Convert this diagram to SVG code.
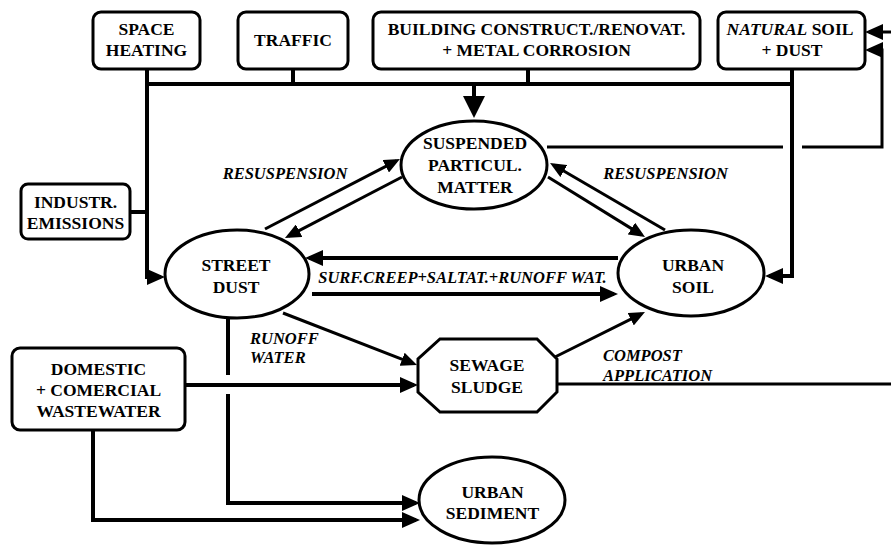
<svg xmlns="http://www.w3.org/2000/svg" width="891" height="545" viewBox="0 0 891 545" font-family="Liberation Serif, Times New Roman, serif">
<style>
.box{fill:#fff;stroke:#000;stroke-width:3}
.lbl{font-weight:bold;font-size:17.5px;text-anchor:middle;fill:#000}
.it{font-style:italic;font-weight:bold;font-size:16.5px;fill:#000}
.c{fill:none;stroke:#000;stroke-width:4}
.d{fill:none;stroke:#000;stroke-width:3}
</style>
<defs>
<marker id="ah" markerUnits="userSpaceOnUse" markerWidth="18" markerHeight="16" refX="14" refY="8" orient="auto" viewBox="0 0 18 16"><path d="M0,0 L18,8 L0,16 z" fill="#000"/></marker>
<marker id="at" markerUnits="userSpaceOnUse" markerWidth="16" markerHeight="14" refX="12" refY="7" orient="auto" viewBox="0 0 16 14"><path d="M0,0 L16,7 L0,14 z" fill="#000"/></marker>
<marker id="ab" markerUnits="userSpaceOnUse" markerWidth="22" markerHeight="22" refX="18" refY="11" orient="auto" viewBox="0 0 22 22"><path d="M0,0 L22,11 L0,22 z" fill="#000"/></marker>
</defs>
<rect width="891" height="545" fill="#fff"/>
<g id="connectors">
<path class="c" d="M147,69 V277 H161" marker-end="url(#ah)"/>
<path class="c" d="M147,84 H792"/>
<path class="c" d="M293,69 V84"/>
<path class="c" d="M528,69 V84"/>
<path class="c" d="M474,84 V114" marker-end="url(#ab)"/>
<path class="c" d="M792,69 V276 H769" marker-end="url(#ah)"/>
<path class="c" d="M130,212 H147"/>
<path class="d" d="M547,147 H783"/>
<path class="d" d="M802,147 H882 V50 H869" marker-end="url(#ah)"/>
<path class="d" d="M891,32 H869" marker-end="url(#ah)"/>
<path class="d" d="M265,229 L396.4,160.8" marker-end="url(#at)"/>
<path class="d" d="M402,177 L288.5,236.2" marker-end="url(#at)"/>
<path class="d" d="M665,230 L553.5,165" marker-end="url(#at)"/>
<path class="d" d="M548,177 L641.6,234.9" marker-end="url(#at)"/>
<path class="c" d="M618,258 H309" marker-end="url(#ah)"/>
<path class="c" d="M312,294 H614" marker-end="url(#ah)"/>
<path class="d" d="M283,313 L413.3,363.6" marker-end="url(#at)"/>
<path class="c" d="M228,318 V375"/>
<path class="c" d="M228,394 V503 H416" marker-end="url(#ah)"/>
<path class="c" d="M185,385 H414" marker-end="url(#ah)"/>
<path class="c" d="M93,430 V520 H416" marker-end="url(#ah)"/>
<path class="d" d="M555,357 L641.4,313.8" marker-end="url(#at)"/>
<path class="d" d="M557,384 H891"/>
</g>
<g id="space-heating"><rect class="box" x="93" y="12" width="107" height="57" rx="8"/><text class="lbl" x="146.5" y="35">SPACE</text><text class="lbl" x="146.5" y="56">HEATING</text></g>
<g id="traffic"><rect class="box" x="238" y="12" width="110" height="57" rx="8"/><text class="lbl" x="293" y="46">TRAFFIC</text></g>
<g id="building"><rect class="box" x="373" y="12" width="327" height="57" rx="8"/><text class="lbl" x="536.5" y="35">BUILDING CONSTRUCT./RENOVAT.</text><text class="lbl" x="536.5" y="56">+ METAL CORROSION</text></g>
<g id="natural-soil"><rect class="box" x="718" y="12" width="147" height="57" rx="8"/><text class="lbl" x="790" y="35"><tspan font-style="italic">NATURAL</tspan> SOIL</text><text class="lbl" x="792" y="56">+ DUST</text></g>
<g id="industr"><rect class="box" x="21" y="184" width="109" height="55" rx="7"/><text class="lbl" x="75.5" y="208">INDUSTR.</text><text class="lbl" x="75.5" y="229">EMISSIONS</text></g>
<g id="domestic"><rect class="box" x="12" y="348" width="173" height="82" rx="8"/><text class="lbl" x="98.5" y="375">DOMESTIC</text><text class="lbl" x="98.5" y="396">+ COMERCIAL</text><text class="lbl" x="98.5" y="417">WASTEWATER</text></g>
<g id="spm"><ellipse class="box" cx="474" cy="165" rx="73" ry="44"/><text class="lbl" x="475" y="149">SUSPENDED</text><text class="lbl" x="475" y="171">PARTICUL.</text><text class="lbl" x="475" y="193">MATTER</text></g>
<g id="street-dust"><ellipse class="box" cx="237" cy="274" rx="72" ry="44"/><text class="lbl" x="236" y="271">STREET</text><text class="lbl" x="236" y="293">DUST</text></g>
<g id="urban-soil"><ellipse class="box" cx="691" cy="273" rx="73" ry="43"/><text class="lbl" x="693" y="271">URBAN</text><text class="lbl" x="693" y="293">SOIL</text></g>
<g id="sewage-sludge"><polygon class="box" points="440,339 537,339 557,359 557,392 537,412 440,412 418,392 418,359"/><text class="lbl" x="487" y="371">SEWAGE</text><text class="lbl" x="487" y="393">SLUDGE</text></g>
<g id="urban-sediment"><ellipse class="box" cx="492" cy="500" rx="73" ry="43"/><text class="lbl" x="492.5" y="498">URBAN</text><text class="lbl" x="492.5" y="519">SEDIMENT</text></g>
<g id="labels">
<text class="it" x="285" y="179" text-anchor="middle">RESUSPENSION</text>
<text class="it" x="665.5" y="179" text-anchor="middle">RESUSPENSION</text>
<text class="it" x="462.5" y="283" text-anchor="middle">SURF.CREEP+SALTAT.+RUNOFF WAT.</text>
<text class="it" x="250" y="344">RUNOFF</text>
<text class="it" x="250" y="363">WATER</text>
<text class="it" x="603" y="361">COMPOST</text>
<text class="it" x="603" y="381">APPLICATION</text>
</g>
</svg>
